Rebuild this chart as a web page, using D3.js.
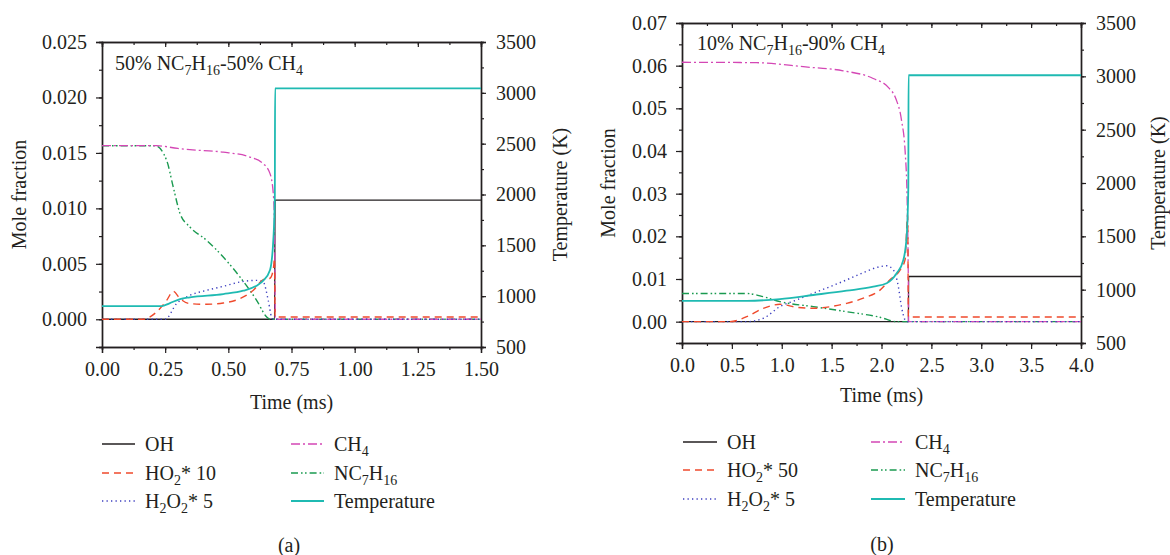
<!DOCTYPE html>
<html><head><meta charset="utf-8">
<script src="https://cdn.jsdelivr.net/npm/d3@7"></script>
<style>
html,body{margin:0;padding:0;background:#fff;}
svg, svg text{font-family:"Liberation Serif","Times New Roman",serif !important;}
</style></head>
<body><svg id="chart" width="1170" height="555"></svg>
<script>
// ---------- Panel (a): 50% NC7H16-50% CH4 ----------
const tA_OH   = [0, 0.683, 0.685, 1.5];
const vA_OH   = [0, 0, 0.01074, 0.01074];
const tA_HO2  = [0, 0.16, 0.216, 0.256, 0.282, 0.309, 0.348, 0.414, 0.48, 0.546, 0.599, 0.638, 0.665, 0.678, 0.683, 0.685, 1.5];
const vA_HO2  = [0, 0, 0.00066, 0.00171, 0.00252, 0.00186, 0.00141, 0.00135, 0.00147, 0.00186, 0.00261, 0.00357, 0.0037, 0.0045, 0.0055, 0.0002, 0.0002];
const tA_H2O2 = [0, 0.25, 0.295, 0.348, 0.414, 0.48, 0.546, 0.612, 0.638, 0.658, 0.671, 0.676, 1.5];
const vA_H2O2 = [0, 0, 0.00141, 0.00216, 0.00261, 0.00297, 0.00336, 0.00351, 0.00336, 0.0017, 0.0002, 0, 0];
const tA_CH4  = [0, 0.216, 0.3, 0.348, 0.48, 0.586, 0.638, 0.665, 0.678, 0.683, 0.686, 1.5];
const vA_CH4  = [0.01565, 0.01565, 0.0154, 0.01529, 0.01507, 0.01462, 0.01403, 0.01313, 0.01132, 0.008, 0, 0];
const tA_NC7  = [0, 0.21, 0.256, 0.282, 0.309, 0.348, 0.414, 0.48, 0.546, 0.612, 0.652, 0.665, 1.5];
const vA_NC7  = [0.01565, 0.01565, 0.01432, 0.01192, 0.00952, 0.00832, 0.00712, 0.00561, 0.00381, 0.00171, 0.0002, 0, 0];
const tA_T    = [0, 0.236, 0.267, 0.309, 0.348, 0.48, 0.559, 0.612, 0.638, 0.665, 0.678, 0.684, 0.685, 1.5];
const vA_T    = [903, 903, 930, 972, 989, 1021, 1054, 1103, 1152, 1257, 1552, 1978, 3043, 3043];
const xTicksA = [0, 0.25, 0.5, 0.75, 1.0, 1.25, 1.5];
const yTicksA = [0, 0.005, 0.01, 0.015, 0.02, 0.025];
const labelsA = ["OH", "HO2* 10", "H2O2* 5", "CH4", "NC7H16", "Temperature"];

// ---------- Panel (b): 10% NC7H16-90% CH4 ----------
const tB_OH   = [0, 2.27, 2.272, 4];
const vB_OH   = [0, 0, 0.01059, 0.01059];
const tB_HO2  = [0, 0.48, 0.649, 0.815, 0.982, 1.15, 1.316, 1.484, 1.651, 1.818, 1.985, 2.085, 2.186, 2.236, 2.262, 2.27, 4];
const vB_HO2  = [0, 0, 0.00117, 0.00313, 0.00407, 0.00337, 0.00313, 0.0035, 0.0043, 0.0055, 0.0074, 0.0098, 0.0121, 0.0145, 0.025, 0.0011, 0.0011];
const tB_H2O2 = [0, 0.65, 0.815, 0.982, 1.15, 1.316, 1.484, 1.651, 1.818, 1.985, 2.052, 2.119, 2.169, 2.2, 2.236, 2.25, 4];
const vB_H2O2 = [0, 0, 0.0008, 0.00352, 0.0051, 0.00666, 0.0082, 0.0098, 0.0115, 0.0129, 0.0131, 0.0121, 0.0082, 0.0035, 0.0004, 0, 0];
const tB_CH4  = [0, 0.747, 1.238, 1.615, 1.917, 2.068, 2.143, 2.2, 2.238, 2.257, 2.268, 2.272, 4];
const vB_CH4  = [0.0608, 0.0607, 0.0597, 0.0588, 0.057, 0.0549, 0.0523, 0.0473, 0.0395, 0.0286, 0.012, 0, 0];
const tB_NC7  = [0, 0.649, 0.815, 0.982, 1.316, 1.651, 1.985, 2.152, 4];
const vB_NC7  = [0.0066, 0.0066, 0.00586, 0.00469, 0.00352, 0.00234, 0.00103, 0, 0];
const tB_T    = [0, 0.65, 0.982, 1.316, 1.651, 1.918, 2.052, 2.152, 2.219, 2.252, 2.269, 2.271, 4];
const vB_T    = [895, 895, 912, 950, 990, 1028, 1060, 1153, 1278, 1497, 1965, 3010, 3010];
const xTicksB = [0, 0.5, 1.0, 1.5, 2.0, 2.5, 3.0, 3.5, 4.0];
const yTicksB = [0, 0.01, 0.02, 0.03, 0.04, 0.05, 0.06, 0.07];
const labelsB = ["OH", "HO2* 50", "H2O2* 5", "CH4", "NC7H16", "Temperature"];

const tempTicks = [500, 1000, 1500, 2000, 2500, 3000, 3500];

const INK = "#231f20";
const FONT = "'Liberation Serif', 'Times New Roman', serif";
const styles = [
  {color: "#231f20", dash: null, w: 1.3},          // OH
  {color: "#ef4a2c", dash: "7,5", w: 1.4},         // HO2
  {color: "#3d3fc0", dash: "1.3,3.2", w: 1.4},     // H2O2
  {color: "#d447b5", dash: "9,3,2,3", w: 1.3},     // CH4
  {color: "#1a9a50", dash: "7,3,1.6,2.4,1.6,3", w: 1.4}, // NC7H16
  {color: "#1fbab2", dash: null, w: 1.8}           // Temperature
];

const svg = d3.select("#chart");

function zip(ts, vs){ return ts.map((t,i)=>({t:t, v:vs[i]})); }

function richText(sel, label){
  const parts = label.match(/[A-Za-z]+|\d+|[^A-Za-z\d]+/g);
  let prevLetter = false, sub = false;
  parts.forEach(p=>{
    if(/^\d+$/.test(p) && prevLetter){
      sel.append("tspan").style("font-size","14px").attr("dy", sub? 0 : 5).text(p);
      sub = true;
    } else {
      sel.append("tspan").attr("dy", sub? -5 : 0).text(p);
      sub = false;
    }
    prevLetter = /[A-Za-z]$/.test(p);
  });
}

function txt(sel){
  return sel.style("font-family", FONT).style("font-size", "20px").attr("fill", INK);
}

function panel(cfg){
  const g = svg.append("g");
  const x = d3.scaleLinear().domain(cfg.xDomain).range([cfg.left, cfg.right]);
  const y = d3.scaleLinear().domain(cfg.yDomain).range([cfg.bottom, cfg.top]);
  const yT = d3.scaleLinear().domain([500, 3500]).range([cfg.bottom, cfg.top]);

  const clipId = "clip" + cfg.id;
  svg.append("clipPath").attr("id", clipId).append("rect")
    .attr("x", cfg.left).attr("y", cfg.top - 2)
    .attr("width", cfg.right - cfg.left).attr("height", cfg.bottom - cfg.top + 2);

  const xMinor = d3.range(cfg.xDomain[0], cfg.xDomain[1] + 1e-9, cfg.xMinorStep);
  const yMinor = d3.range(cfg.yDomain[0], cfg.yDomain[1] + 1e-9, cfg.yMinorStep);
  const tMinor = d3.range(500, 3500 + 1e-9, 250);

  function styleAxis(a){
    a.attr("font-family", null).attr("font-size", null);
    a.selectAll(".domain").attr("stroke", INK).attr("stroke-width", 1.4);
    a.selectAll(".tick line").attr("stroke", INK).attr("stroke-width", 1.2);
    txt(a.selectAll("text"));
  }
  styleAxis(g.append("g").attr("transform", `translate(0,${cfg.bottom})`)
    .call(d3.axisBottom(x).tickValues(xMinor).tickSize(3).tickFormat("")));
  styleAxis(g.append("g").attr("transform", `translate(0,${cfg.top})`)
    .call(d3.axisTop(x).tickValues(xMinor).tickSize(-3).tickFormat("")));
  styleAxis(g.append("g").attr("transform", `translate(${cfg.left},0)`)
    .call(d3.axisLeft(y).tickValues(yMinor).tickSize(3).tickFormat("")));
  styleAxis(g.append("g").attr("transform", `translate(${cfg.right},0)`)
    .call(d3.axisRight(yT).tickValues(tMinor).tickSize(3).tickFormat("")));
  styleAxis(g.append("g").attr("transform", `translate(0,${cfg.bottom})`)
    .call(d3.axisBottom(x).tickValues(cfg.xTicks).tickSize(6).tickPadding(9).tickFormat(d3.format(cfg.xFmt))));
  styleAxis(g.append("g").attr("transform", `translate(0,${cfg.top})`)
    .call(d3.axisTop(x).tickValues(cfg.xTicks).tickSize(-5).tickFormat("")));
  styleAxis(g.append("g").attr("transform", `translate(${cfg.left},0)`)
    .call(d3.axisLeft(y).tickValues(cfg.yTicks).tickSize(6).tickPadding(9).tickFormat(d3.format(cfg.yFmt))));
  styleAxis(g.append("g").attr("transform", `translate(${cfg.right},0)`)
    .call(d3.axisRight(yT).tickValues(tempTicks).tickSize(5).tickPadding(10).tickFormat(d3.format("d"))));

  const line = d3.line().x(d=>x(d.t)).y(d=>y(d.v)).curve(d3.curveMonotoneX);
  const lineT = d3.line().x(d=>x(d.t)).y(d=>yT(d.v)).curve(d3.curveMonotoneX);
  const lg = g.append("g").attr("clip-path", `url(#${clipId})`);
  [0, 4, 3, 2, 1, 5].forEach(i=>{
    const s = cfg.series[i];
    lg.append("path").datum(zip(s[0], s[1]))
      .attr("d", i === 5 ? lineT : line)
      .attr("fill", "none").attr("stroke", styles[i].color)
      .attr("stroke-width", styles[i].w)
      .attr("stroke-dasharray", styles[i].dash);
  });

  richText(txt(g.append("text").attr("x", cfg.noteX).attr("y", cfg.noteY)), cfg.note);

  txt(g.append("text").attr("x", (cfg.left + cfg.right)/2).attr("y", cfg.xTitleY)
    .attr("text-anchor", "middle")).text("Time (ms)");
  txt(g.append("text").attr("transform", `translate(${cfg.yTitleX},${(cfg.top+cfg.bottom)/2}) rotate(-90)`)
    .attr("text-anchor", "middle").attr("dy", "0.35em")).text("Mole fraction");
  txt(g.append("text").attr("transform", `translate(${cfg.tTitleX},${(cfg.top+cfg.bottom)/2}) rotate(-90)`)
    .attr("text-anchor", "middle").attr("dy", "0.35em")).text("Temperature (K)");

  cfg.labels.forEach((lab, i)=>{
    const col = Math.floor(i/3), row = i%3;
    const lx = cfg.legX[col], ly = cfg.legY[row];
    g.append("line").attr("x1", lx).attr("x2", lx + cfg.legLen).attr("y1", ly).attr("y2", ly)
      .attr("stroke", styles[i].color).attr("stroke-width", styles[i].w)
      .attr("stroke-dasharray", styles[i].dash);
    richText(txt(g.append("text").attr("x", lx + cfg.legLen + 10).attr("y", ly + 7)), lab);
  });
  txt(g.append("text").attr("x", cfg.capX).attr("y", cfg.capY + 7)
    .attr("text-anchor", "middle")).text(cfg.caption);
}

panel({
  id: "A", left: 102, right: 481, top: 42, bottom: 347,
  xDomain: [0, 1.5], yDomain: [-0.0025, 0.025], xMinorStep: 0.125, yMinorStep: 0.0025,
  xTicks: xTicksA, yTicks: yTicksA, xFmt: ".2f", yFmt: ".3f",
  series: [[tA_OH, vA_OH], [tA_HO2, vA_HO2], [tA_H2O2, vA_H2O2], [tA_CH4, vA_CH4], [tA_NC7, vA_NC7], [tA_T, vA_T]],
  note: "50% NC7H16-50% CH4", noteX: 115, noteY: 70,
  xTitleY: 409, yTitleX: 19, tTitleX: 560,
  labels: labelsA, legX: [102, 291], legY: [444, 473, 501], legLen: 33,
  caption: "(a)", capX: 289, capY: 545
});

panel({
  id: "B", left: 682, right: 1081, top: 23, bottom: 343,
  xDomain: [0, 4], yDomain: [-0.005, 0.07], xMinorStep: 0.25, yMinorStep: 0.005,
  xTicks: xTicksB, yTicks: yTicksB, xFmt: ".1f", yFmt: ".2f",
  series: [[tB_OH, vB_OH], [tB_HO2, vB_HO2], [tB_H2O2, vB_H2O2], [tB_CH4, vB_CH4], [tB_NC7, vB_NC7], [tB_T, vB_T]],
  note: "10% NC7H16-90% CH4", noteX: 697, noteY: 50,
  xTitleY: 402, yTitleX: 608, tTitleX: 1158,
  labels: labelsB, legX: [683, 871], legY: [442, 470, 499], legLen: 34,
  caption: "(b)", capX: 882, capY: 544
});
</script></body></html>
